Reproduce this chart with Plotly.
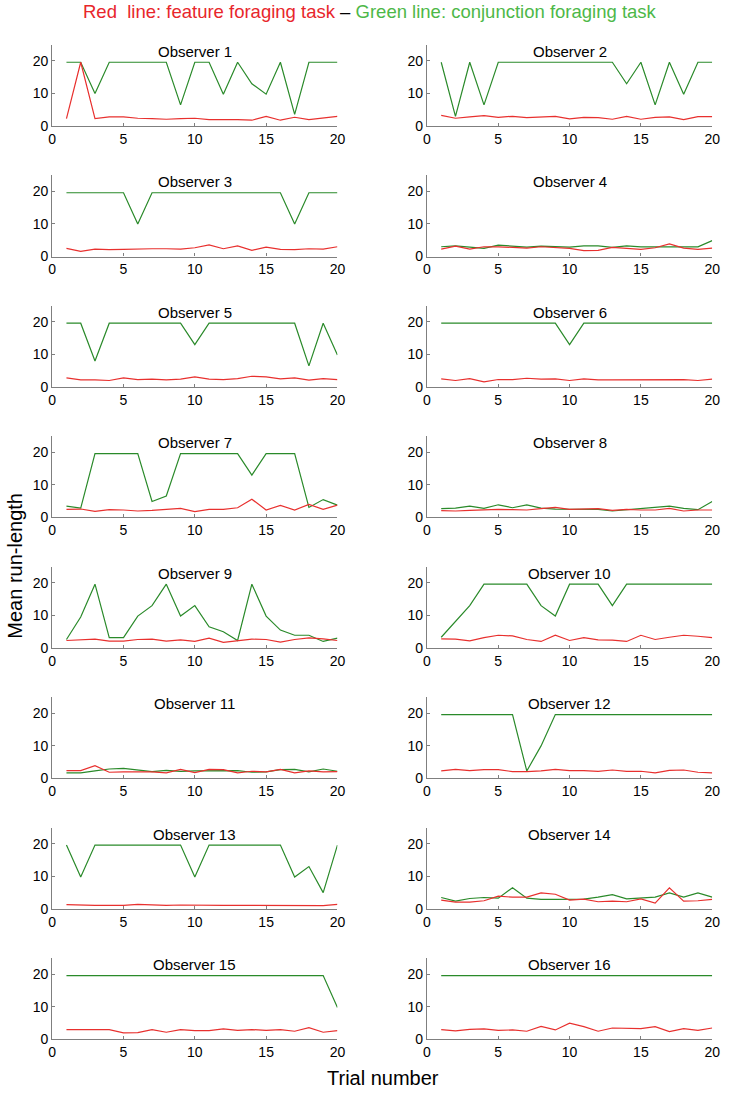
import plotly.graph_objects as go

trials = list(range(1, 21))
x_ticks = [0, 5, 10, 15, 20]
y_ticks = [0, 10, 20]
panel_titles = [f"Observer {i}" for i in range(1, 17)]

# Red: feature foraging task ; Green: conjunction foraging task
feature_01 = [2.3, 19.6, 2.3, 2.8, 2.8, 2.4, 2.3, 2.1, 2.3, 2.4, 2.0, 2.1, 2.0, 1.8, 3.0, 1.8, 2.7, 2.0, 2.5, 3.0]
conjunction_01 = [19.6, 19.6, 10, 19.6, 19.6, 19.6, 19.6, 19.6, 6.5, 19.6, 19.6, 9.8, 19.6, 13, 9.8, 19.6, 3.6, 19.6, 19.6, 19.6]
feature_02 = [3.3, 2.4, 2.8, 3.2, 2.7, 3.0, 2.6, 2.9, 3.0, 2.2, 2.7, 2.6, 2.1, 3.0, 2.1, 2.7, 2.8, 2.0, 2.9, 2.9]
conjunction_02 = [19.6, 3.0, 19.6, 6.5, 19.6, 19.6, 19.6, 19.6, 19.6, 19.6, 19.6, 19.6, 19.6, 13, 19.6, 6.5, 19.6, 9.8, 19.6, 19.6]
feature_03 = [2.5, 1.6, 2.3, 2.1, 2.2, 2.4, 2.4, 2.4, 2.3, 2.7, 3.6, 2.4, 3.3, 1.9, 2.9, 2.2, 2.1, 2.4, 2.3, 3.0]
conjunction_03 = [19.6, 19.6, 19.6, 19.6, 19.6, 10, 19.6, 19.6, 19.6, 19.6, 19.6, 19.6, 19.6, 19.6, 19.6, 19.6, 10, 19.6, 19.6, 19.6]
feature_04 = [2.3, 3.2, 2.3, 3.0, 3.0, 2.8, 2.6, 3.0, 2.8, 2.5, 1.8, 1.9, 2.8, 2.6, 2.2, 2.7, 3.9, 2.6, 2.2, 2.6]
conjunction_04 = [3.0, 3.3, 2.9, 2.5, 3.5, 3.3, 2.9, 3.2, 3.0, 2.9, 3.3, 3.3, 2.8, 3.3, 3.0, 3.0, 2.8, 2.8, 3.0, 4.9]
feature_05 = [2.8, 2.2, 2.2, 2.0, 2.8, 2.3, 2.4, 2.2, 2.4, 3.1, 2.4, 2.3, 2.6, 3.3, 3.1, 2.5, 2.8, 2.1, 2.6, 2.3]
conjunction_05 = [19.6, 19.6, 8.0, 19.6, 19.6, 19.6, 19.6, 19.6, 19.6, 13, 19.6, 19.6, 19.6, 19.6, 19.6, 19.6, 19.6, 6.5, 19.6, 9.8]
feature_06 = [2.5, 2.0, 2.6, 1.6, 2.3, 2.3, 2.7, 2.4, 2.5, 2.0, 2.5, 2.2, 2.2, 2.2, 2.3, 2.3, 2.3, 2.3, 2.0, 2.4]
conjunction_06 = [19.6, 19.6, 19.6, 19.6, 19.6, 19.6, 19.6, 19.6, 19.6, 13, 19.6, 19.6, 19.6, 19.6, 19.6, 19.6, 19.6, 19.6, 19.6, 19.6]
feature_07 = [2.5, 2.6, 1.9, 2.4, 2.3, 2.0, 2.2, 2.5, 2.8, 1.8, 2.5, 2.5, 3.0, 5.6, 2.3, 3.7, 2.3, 4.0, 2.5, 3.8]
conjunction_07 = [3.5, 2.9, 19.6, 19.6, 19.6, 19.6, 4.9, 6.6, 19.6, 19.6, 19.6, 19.6, 19.6, 13, 19.6, 19.6, 19.6, 3.1, 5.5, 3.8]
feature_08 = [2.1, 2.0, 2.2, 2.4, 2.5, 2.4, 2.3, 2.7, 3.1, 2.5, 2.5, 2.7, 2.2, 2.5, 2.3, 2.3, 2.8, 2.0, 2.3, 2.3]
conjunction_08 = [2.7, 2.9, 3.5, 2.8, 3.9, 3.0, 3.9, 2.9, 2.6, 2.6, 2.6, 2.5, 2.0, 2.4, 2.7, 3.2, 3.5, 2.8, 2.4, 4.9]
feature_09 = [2.3, 2.5, 2.7, 2.1, 2.1, 2.6, 2.7, 2.1, 2.5, 2.0, 3.0, 1.7, 2.1, 2.7, 2.6, 1.8, 2.6, 3.1, 2.8, 2.3]
conjunction_09 = [2.6, 9.5, 19.6, 3.2, 3.2, 9.8, 13, 19.6, 9.8, 13, 6.5, 5.0, 2.3, 19.6, 9.8, 5.5, 3.9, 3.9, 2.0, 3.0]
feature_10 = [2.8, 2.7, 2.2, 3.2, 3.9, 3.7, 2.6, 2.0, 3.9, 2.3, 3.2, 2.5, 2.4, 2.0, 3.9, 2.6, 3.3, 3.9, 3.6, 3.2]
conjunction_10 = [3.3, 8.0, 13, 19.6, 19.6, 19.6, 19.6, 13, 9.8, 19.6, 19.6, 19.6, 13, 19.6, 19.6, 19.6, 19.6, 19.6, 19.6, 19.6]
feature_11 = [2.4, 2.4, 3.9, 1.9, 2.0, 2.0, 2.0, 1.7, 2.8, 1.8, 2.8, 2.7, 1.7, 2.2, 2.0, 2.8, 1.7, 2.3, 2.0, 2.1]
conjunction_11 = [1.7, 1.7, 2.3, 2.9, 3.1, 2.6, 2.1, 2.5, 2.2, 2.3, 2.3, 2.5, 2.4, 1.9, 2.0, 2.7, 2.8, 2.0, 2.9, 2.2]
feature_12 = [2.3, 2.8, 2.4, 2.7, 2.7, 2.1, 2.1, 2.3, 2.8, 2.4, 2.4, 2.2, 2.6, 2.2, 2.2, 1.7, 2.5, 2.6, 1.9, 1.7]
conjunction_12 = [19.6, 19.6, 19.6, 19.6, 19.6, 19.6, 2.3, 10, 19.6, 19.6, 19.6, 19.6, 19.6, 19.6, 19.6, 19.6, 19.6, 19.6, 19.6, 19.6]
feature_13 = [1.3, 1.1, 1.1, 1.1, 1.1, 1.4, 1.2, 1.1, 1.2, 1.1, 1.2, 1.1, 1.1, 1.1, 1.1, 1.1, 1.2, 1.2, 1.0, 1.4]
conjunction_13 = [19.6, 9.8, 19.6, 19.6, 19.6, 19.6, 19.6, 19.6, 19.6, 9.8, 19.6, 19.6, 19.6, 19.6, 19.6, 19.6, 9.8, 13, 5.0, 19.6]
feature_14 = [2.7, 2.1, 2.1, 2.5, 3.9, 3.6, 3.6, 4.9, 4.5, 2.7, 3.0, 2.2, 2.4, 2.2, 3.1, 1.8, 6.5, 2.4, 2.5, 2.9]
conjunction_14 = [3.5, 2.4, 3.2, 3.5, 3.3, 6.5, 3.3, 2.9, 2.9, 2.9, 3.0, 3.6, 4.4, 3.1, 3.3, 3.6, 4.9, 3.6, 4.9, 3.6]
feature_15 = [3.0, 3.0, 3.0, 3.0, 2.0, 2.1, 3.0, 2.2, 3.0, 2.7, 2.7, 3.2, 2.8, 3.0, 2.8, 3.0, 2.5, 3.6, 2.2, 2.7]
conjunction_15 = [19.6, 19.6, 19.6, 19.6, 19.6, 19.6, 19.6, 19.6, 19.6, 19.6, 19.6, 19.6, 19.6, 19.6, 19.6, 19.6, 19.6, 19.6, 19.6, 9.8]
feature_16 = [3.0, 2.6, 3.1, 3.2, 2.8, 2.9, 2.5, 4.0, 2.9, 5.0, 3.9, 2.5, 3.5, 3.3, 3.3, 3.9, 2.4, 3.3, 2.8, 3.5]
conjunction_16 = [19.6] * 20

feature = [feature_01, feature_02, feature_03, feature_04, feature_05, feature_06, feature_07, feature_08,
           feature_09, feature_10, feature_11, feature_12, feature_13, feature_14, feature_15, feature_16]
conjunction = [conjunction_01, conjunction_02, conjunction_03, conjunction_04, conjunction_05, conjunction_06,
               conjunction_07, conjunction_08, conjunction_09, conjunction_10, conjunction_11, conjunction_12,
               conjunction_13, conjunction_14, conjunction_15, conjunction_16]

W, H = 732, 1099
RED = "#e8302e"
GREEN = "#2a8a2a"
AXIS = "#7f7f7f"
FONT = "Liberation Sans, Arial, sans-serif"

fig = go.Figure()
layout = dict(
    width=W, height=H, autosize=False,
    margin=dict(l=0, r=0, t=0, b=0),
    paper_bgcolor="white", plot_bgcolor="white",
    showlegend=False,
    font=dict(family=FONT, size=14, color="black"),
)
annotations = []
col_px = [(49, 339), (430, 720)]
for k in range(16):
    row, col = divmod(k, 2)
    bottom = 127 + row * 131.43
    top = bottom - 82
    xd = [col_px[col][0] / W, col_px[col][1] / W]
    yd = [1 - bottom / H, 1 - top / H]
    xa = "x" if k == 0 else f"x{k+1}"
    ya = "y" if k == 0 else f"y{k+1}"
    fig.add_trace(go.Scatter(x=trials, y=conjunction[k], mode="lines",
                             line=dict(color=GREEN, width=1.2), xaxis=xa, yaxis=ya))
    fig.add_trace(go.Scatter(x=trials, y=feature[k], mode="lines",
                             line=dict(color=RED, width=1.2), xaxis=xa, yaxis=ya))
    common = dict(showline=True, linecolor=AXIS, linewidth=1.3, showgrid=False, zeroline=False,
                  ticks="inside", ticklen=3, tickwidth=1, tickcolor=AXIS,
                  tickfont=dict(family=FONT, size=14, color="black"), mirror=False, fixedrange=True)
    layout["xaxis" if k == 0 else f"xaxis{k+1}"] = dict(
        domain=xd, range=[0, 20], tickvals=x_ticks, anchor=ya, **common)
    layout["yaxis" if k == 0 else f"yaxis{k+1}"] = dict(
        domain=yd, range=[0, 25], tickvals=y_ticks, anchor=xa, **common)
    annotations.append(dict(text=panel_titles[k], xref="paper", yref="paper",
                            x=(xd[0] + xd[1]) / 2, y=yd[1], xanchor="center", yanchor="top",
                            yshift=4, showarrow=False,
                            font=dict(family=FONT, size=15, color="black")))

annotations.append(dict(
    text=("<span style='color:#e8262b'>Red  line: feature foraging task</span>"
          " <span style='color:black'>–</span> "
          "<span style='color:#4db848'>Green line: conjunction foraging task</span>"),
    xref="paper", yref="paper", x=372 / W, y=1 - 12 / H, xanchor="center", yanchor="middle",
    showarrow=False, font=dict(family=FONT, size=18.5)))
annotations.append(dict(text="Mean run-length", xref="paper", yref="paper",
                        x=11 / W, y=1 - 570 / H, xanchor="center", yanchor="middle", textangle=-90,
                        showarrow=False, font=dict(family=FONT, size=20, color="black")))
annotations.append(dict(text="Trial number", xref="paper", yref="paper",
                        x=385 / W, y=1 - 1086 / H, xanchor="center", yanchor="middle",
                        showarrow=False, font=dict(family=FONT, size=20, color="black")))
layout["annotations"] = annotations
fig.update_layout(**layout)
fig.write_html("out.html", config={"displayModeBar": False},
               post_script="document.body.style.margin='0px';document.body.style.overflow='hidden';")
